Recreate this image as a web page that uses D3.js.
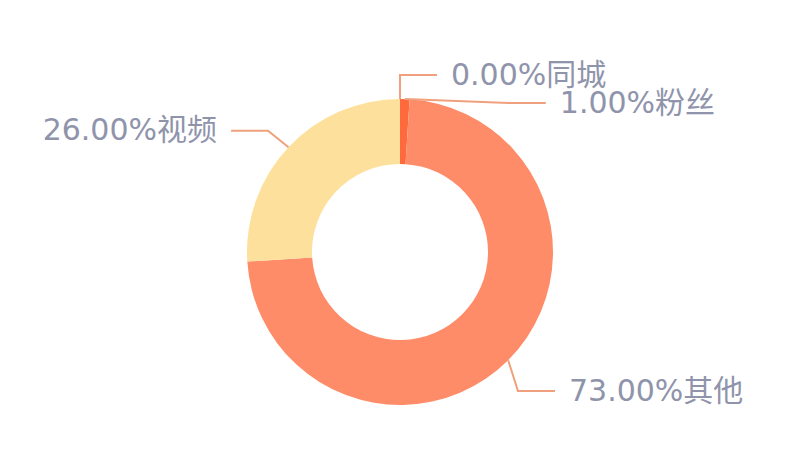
<!DOCTYPE html>
<html>
<head>
<meta charset="utf-8">
<script src="https://cdn.jsdelivr.net/npm/d3@7.9.0/dist/d3.min.js"></script>
<style>
  html, body { margin: 0; padding: 0; background: #fff; }
  svg { display: block; }
  .label { font-family: "DejaVu Sans", "Noto Sans CJK SC", sans-serif; font-size: 30px; fill: #8f94ab; }
</style>
</head>
<body>
<div id="chart"></div>
<script>
const names = ['同城', '粉丝', '其他', '视频'];
const values = [0, 1, 73, 26];
const colors = ['#ffb980', '#ff6a3d', '#ff8c69', '#fde09b'];

const width = 800;
const height = 463;
const cx = 400, cy = 252;
const outerR = 153, innerR = 88;
const len1 = 24, len2 = 37, gap = 5, textGap = 14, lineH = 28;
const labelR = outerR + 59; // circle the shifted labels are pushed back onto

const data = names.map((name, i) => ({ name, value: values[i], color: colors[i] }));
const total = d3.sum(values);

const svg = d3.select('#chart')
  .append('svg')
  .attr('width', width)
  .attr('height', height);

const pie = d3.pie().sort(null).value(d => d.value);
const arcs = pie(data);

const arc = d3.arc().innerRadius(innerR).outerRadius(outerR);

svg.append('g')
  .attr('transform', `translate(${cx},${cy})`)
  .selectAll('path')
  .data(arcs)
  .join('path')
  .attr('d', arc)
  .attr('fill', d => d.data.color);

// label layout, roughly the way echarts places outer pie labels
const items = arcs.map(a => {
  const mid = (a.startAngle + a.endAngle) / 2;
  const dx = Math.sin(mid), dy = -Math.cos(mid);
  const dir = dx < -1e-9 ? -1 : 1;
  const x0 = cx + outerR * dx, y0 = cy + outerR * dy;
  const x1 = cx + (outerR + len1) * dx, y1 = cy + (outerR + len1) * dy;
  return { a, dir, x0, y0, x1, y: y1, x: x1 + dir * (len2 + gap) };
});

function adjustSide(list, dir) {
  list.sort((p, q) => p.y - q.y);
  function shiftUp(end, delta) {
    for (let j = end; j >= 0; j--) {
      list[j].y -= delta;
      if (j > 0 && list[j].y > list[j - 1].y + lineH) break;
    }
  }
  function shiftDown(start, end, delta) {
    for (let j = start; j < end; j++) {
      list[j].y += delta;
      if (j > start && j + 1 < end && list[j + 1].y > list[j].y + lineH) {
        shiftUp(j, delta / 2);
        return;
      }
    }
    shiftUp(end - 1, delta / 2);
  }
  let lastY = 0;
  for (let i = 0; i < list.length; i++) {
    const delta = list[i].y - lastY;
    if (delta < 0) shiftDown(i, list.length, -delta);
    lastY = list[i].y + lineH;
  }
  list.forEach(it => {
    const ddy = Math.abs(it.y - cy);
    if (ddy < outerR + len1) {
      it.x = cx + dir * Math.sqrt(labelR * labelR - ddy * ddy);
    }
  });
}

adjustSide(items.filter(d => d.dir > 0), 1);
adjustSide(items.filter(d => d.dir < 0), -1);

items.forEach(it => {
  it.x2 = it.x - it.dir * gap;
  it.x1 = it.x2 - it.dir * len2;
});

const fmt = d3.format('.2f');

svg.append('g')
  .selectAll('polyline')
  .data(items)
  .join('polyline')
  .attr('points', d => [[d.x0, d.y0], [d.x1, d.y], [d.x2, d.y]].map(p => p.join(',')).join(' '))
  .attr('fill', 'none')
  .attr('stroke', '#f0a07c')
  .attr('stroke-width', 2);

svg.append('g')
  .selectAll('text')
  .data(items)
  .join('text')
  .attr('class', 'label')
  .attr('x', d => d.x2 + d.dir * textGap)
  .attr('y', d => d.y)
  .attr('dy', '0.32em')
  .attr('text-anchor', d => d.dir > 0 ? 'start' : 'end')
  .text(d => fmt(d.a.data.value / total * 100) + '%' + d.a.data.name);
</script>
</body>
</html>
